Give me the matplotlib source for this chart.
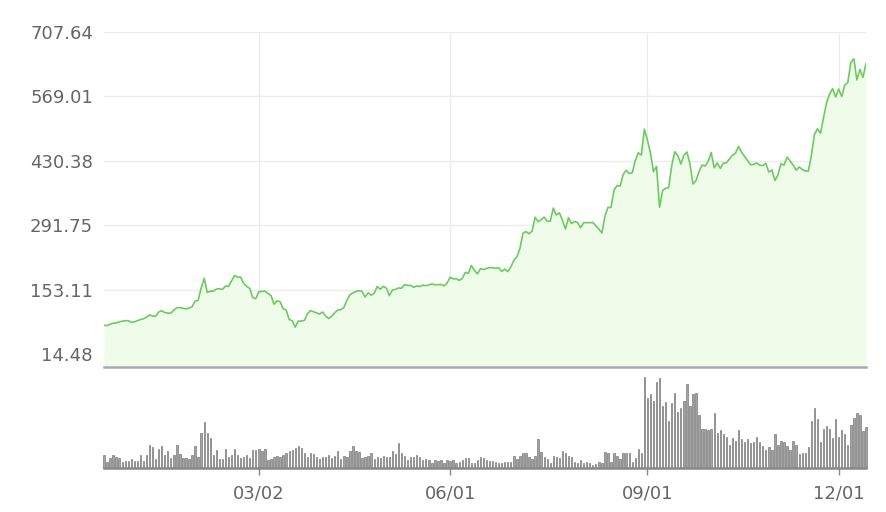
import numpy as np
import pandas as pd
import matplotlib
matplotlib.use('Agg')
import matplotlib.pyplot as plt

# 거래일 (2019-12-16 ~ 2020-12-14)
holidays = ['2019-12-25', '2020-01-01', '2020-01-20', '2020-02-17', '2020-04-10',
            '2020-05-25', '2020-07-03', '2020-09-07', '2020-11-26']
dates = pd.bdate_range('2019-12-16', '2020-12-14', freq='C', holidays=holidays)

# 종가
close = [
    # 2019-12
    76.3, 75.8, 78.6, 80.8, 81.1, 83.8, 85.1, 86.2, 86.1, 82.9, 83.7,
    # 2020-01
    86.1, 88.6, 90.3, 93.8, 98.4, 96.3, 95.6, 105.0, 107.6, 103.7, 102.7,
    102.1, 109.4, 113.9, 114.4, 113.0, 111.6, 113.4, 116.2, 128.2, 130.1,
    # 02
    156.0, 177.4, 146.9, 149.8, 149.6, 154.3, 154.9, 153.5, 160.8, 160.0,
    171.7, 183.5, 179.9, 180.2, 166.8, 160.0, 155.8, 135.8, 133.6,
    # 03
    148.7, 149.1, 149.9, 144.9, 140.7, 121.6, 129.1, 126.9, 112.1, 109.3, 89.0,
    86.0, 72.2, 85.5, 85.5, 86.9, 101.0, 107.9, 105.6, 102.9, 100.4, 104.8,
    # 04
    96.3, 90.9, 96.0, 103.3, 109.1, 109.8, 114.6, 130.2, 142.0, 146.0, 149.0,
    150.8, 149.3, 137.3, 146.4, 141.1, 145.0, 159.8, 153.8, 160.1, 156.4,
    # 05
    140.3, 152.2, 153.6, 156.5, 156.0, 163.9, 162.3, 161.9, 158.2, 160.7,
    159.8, 162.7, 161.6, 163.1, 165.5, 163.4, 163.8, 164.1, 161.2, 167.0,
    # 06
    179.6, 176.3, 176.6, 172.9, 177.1, 190.0, 188.1, 205.0, 194.6, 187.1, 198.2,
    196.4, 198.4, 200.8, 200.2, 198.9, 200.4, 192.2, 197.2, 192.0, 201.9, 216.0,
    # 07
    223.9, 241.7, 274.3, 278.0, 273.2, 278.9, 308.9, 299.4, 303.4, 309.2, 300.1,
    300.2, 328.6, 313.7, 318.5, 302.6, 283.4, 307.9, 295.3, 299.8, 297.5, 286.2,
    # 08
    297.0, 297.4, 297.0, 297.9, 290.5, 283.7, 274.9, 311.0, 330.1, 330.0, 367.1,
    377.4, 375.7, 400.4, 410.0, 402.8, 404.7, 430.6, 447.8, 442.7, 498.3,
    # 09
    475.1, 447.4, 407.0, 418.3, 330.2, 366.3, 371.3, 372.7, 419.6, 449.8, 441.8,
    423.4, 442.2, 449.4, 424.2, 380.4, 387.8, 407.3, 421.2, 419.1, 429.0,
    # 10
    448.2, 415.1, 425.7, 414.0, 425.3, 425.9, 434.0, 442.3, 446.7, 461.3, 448.9,
    439.7, 430.8, 421.9, 422.6, 425.8, 420.6, 420.3, 424.7, 406.0, 410.8, 388.0,
    # 11
    400.5, 423.9, 421.0, 438.1, 430.0, 421.3, 410.4, 417.1, 411.8, 408.5, 408.1,
    441.6, 486.6, 499.3, 489.6, 521.9, 555.4, 574.0, 585.8, 567.6,
    # 12
    584.8, 568.8, 593.4, 599.0, 641.8, 649.9, 604.5, 627.1, 610.0, 639.8,
]

# 거래량 (백만주)
volume = [
    16.4, 7.8, 12.9, 16.4, 14.7, 12.9, 7.8, 9.5, 9.5, 11.2, 9.5,
    9.5, 16.4, 9.5, 16.4, 30.2, 26.7, 11.2, 25.0, 28.4, 16.4, 21.6,
    12.9, 16.4, 30.2, 18.1, 12.9, 12.9, 11.2, 16.4, 28.4, 14.7,
    45.7, 59.5, 45.7, 38.8, 16.4, 23.3, 11.2, 11.2, 25.0, 14.7,
    16.4, 25.0, 16.4, 12.9, 14.7, 16.4, 12.9, 23.3, 23.3,
    24, 22, 24, 10, 11, 14, 16, 14, 17, 20, 22,
    23, 26, 28, 26, 20, 14, 20, 18, 14, 12, 14,
    14, 17, 13, 16, 22, 12, 16, 14, 22, 28, 22,
    21, 13, 14, 16, 20, 12, 14, 13, 16, 14,
    14, 22, 18, 32, 19, 16, 10, 14, 14, 17,
    14, 10, 11, 10, 7, 10, 9, 10, 7, 10,
    9, 10, 7, 8, 10, 13, 13, 7, 7, 10, 14,
    13, 10, 9, 9, 8, 7, 7, 8, 8, 8, 16,
    12, 16, 20, 20, 14, 11, 16, 37, 21, 14, 12,
    7, 15, 14, 13, 22, 19, 15, 14, 8, 7, 10,
    7, 8, 7, 4, 5, 8, 7, 21, 19, 8, 19,
    15, 11, 20, 20, 20, 8, 13, 24, 20, 118.4,
    90.4, 95.6, 87, 111, 116, 80, 85, 61, 83.5, 97, 73,
    77, 87, 109, 80, 95.6, 97, 68, 51, 51, 49,
    51, 71.5, 45.7, 49, 44, 40.5, 30, 38.8, 35.3, 49, 37,
    33.6, 37, 32, 33.6, 40.5, 33.6, 28.4, 23.3, 26.7, 23.3, 44,
    30, 35.3, 33.6, 28.4, 23.3, 35.3, 30, 18, 19.8, 19.8,
    26.7, 61, 78, 63, 33.6, 51, 54, 51, 38.8, 63,
    40.5, 49, 44, 30, 56, 64.6, 71.5, 68, 47.4, 52.5,
]

y_ticks = [14.48, 153.11, 291.75, 430.38, 569.01, 707.64]
tick_dates = ['2020-03-02', '2020-06-01', '2020-09-01', '2020-12-01']

n = min(len(dates), len(close), len(volume))
x = np.arange(n)
close = np.array(close[:n])
volume = np.array(volume[:n])
tick_pos = [dates.get_loc(pd.Timestamp(d)) for d in tick_dates]
tick_lbl = [pd.Timestamp(d).strftime('%m/%d') for d in tick_dates]

line_c = '#6ccb5f'
fill_c = '#effce9'
grid_c = '#ececec'
text_c = '#666666'
y_bottom = -13.5

fig = plt.figure(figsize=(8.86, 5.12), dpi=100)
ax = fig.add_axes([104/886, 1 - 367/512, 762/886, 335/512])
axv = fig.add_axes([104/886, 1 - 468/512, 762/886, 91.5/512])

# 가격 영역
ax.fill_between(x, close, y_bottom, color=fill_c, lw=0)
ax.plot(x, close, color=line_c, lw=1.2)
ax.set_xlim(0, n - 1)
ax.set_ylim(y_bottom, y_ticks[-1])
ax.set_yticks(y_ticks)
ax.set_yticklabels([f'{v:.2f}' for v in y_ticks])
ax.set_xticks(tick_pos)
ax.set_xticklabels([])
ax.tick_params(axis='both', length=0, pad=8, labelsize=13, labelcolor=text_c)
ax.grid(True, color=grid_c, lw=1)
ax.set_axisbelow(True)
for s in ['top', 'right', 'left']:
    ax.spines[s].set_visible(False)
ax.spines['bottom'].set_color('#a8a8b0')
ax.spines['bottom'].set_linewidth(1.8)

# 거래량
axv.bar(x, volume, width=0.45, color='#a2a2a2', edgecolor='#666666', lw=0.4, clip_on=False)
axv.set_xlim(0, n - 1)
axv.set_ylim(0, volume.max())
axv.set_yticks([])
axv.set_xticks(tick_pos)
axv.set_xticklabels(tick_lbl)
axv.tick_params(axis='x', length=5, width=1, color='#888888', pad=7,
                labelsize=13, labelcolor=text_c)
for s in ['top', 'right', 'left']:
    axv.spines[s].set_visible(False)
axv.spines['bottom'].set_color('#888888')
axv.spines['bottom'].set_linewidth(1.8)

fig.savefig('out.png', dpi=100)
